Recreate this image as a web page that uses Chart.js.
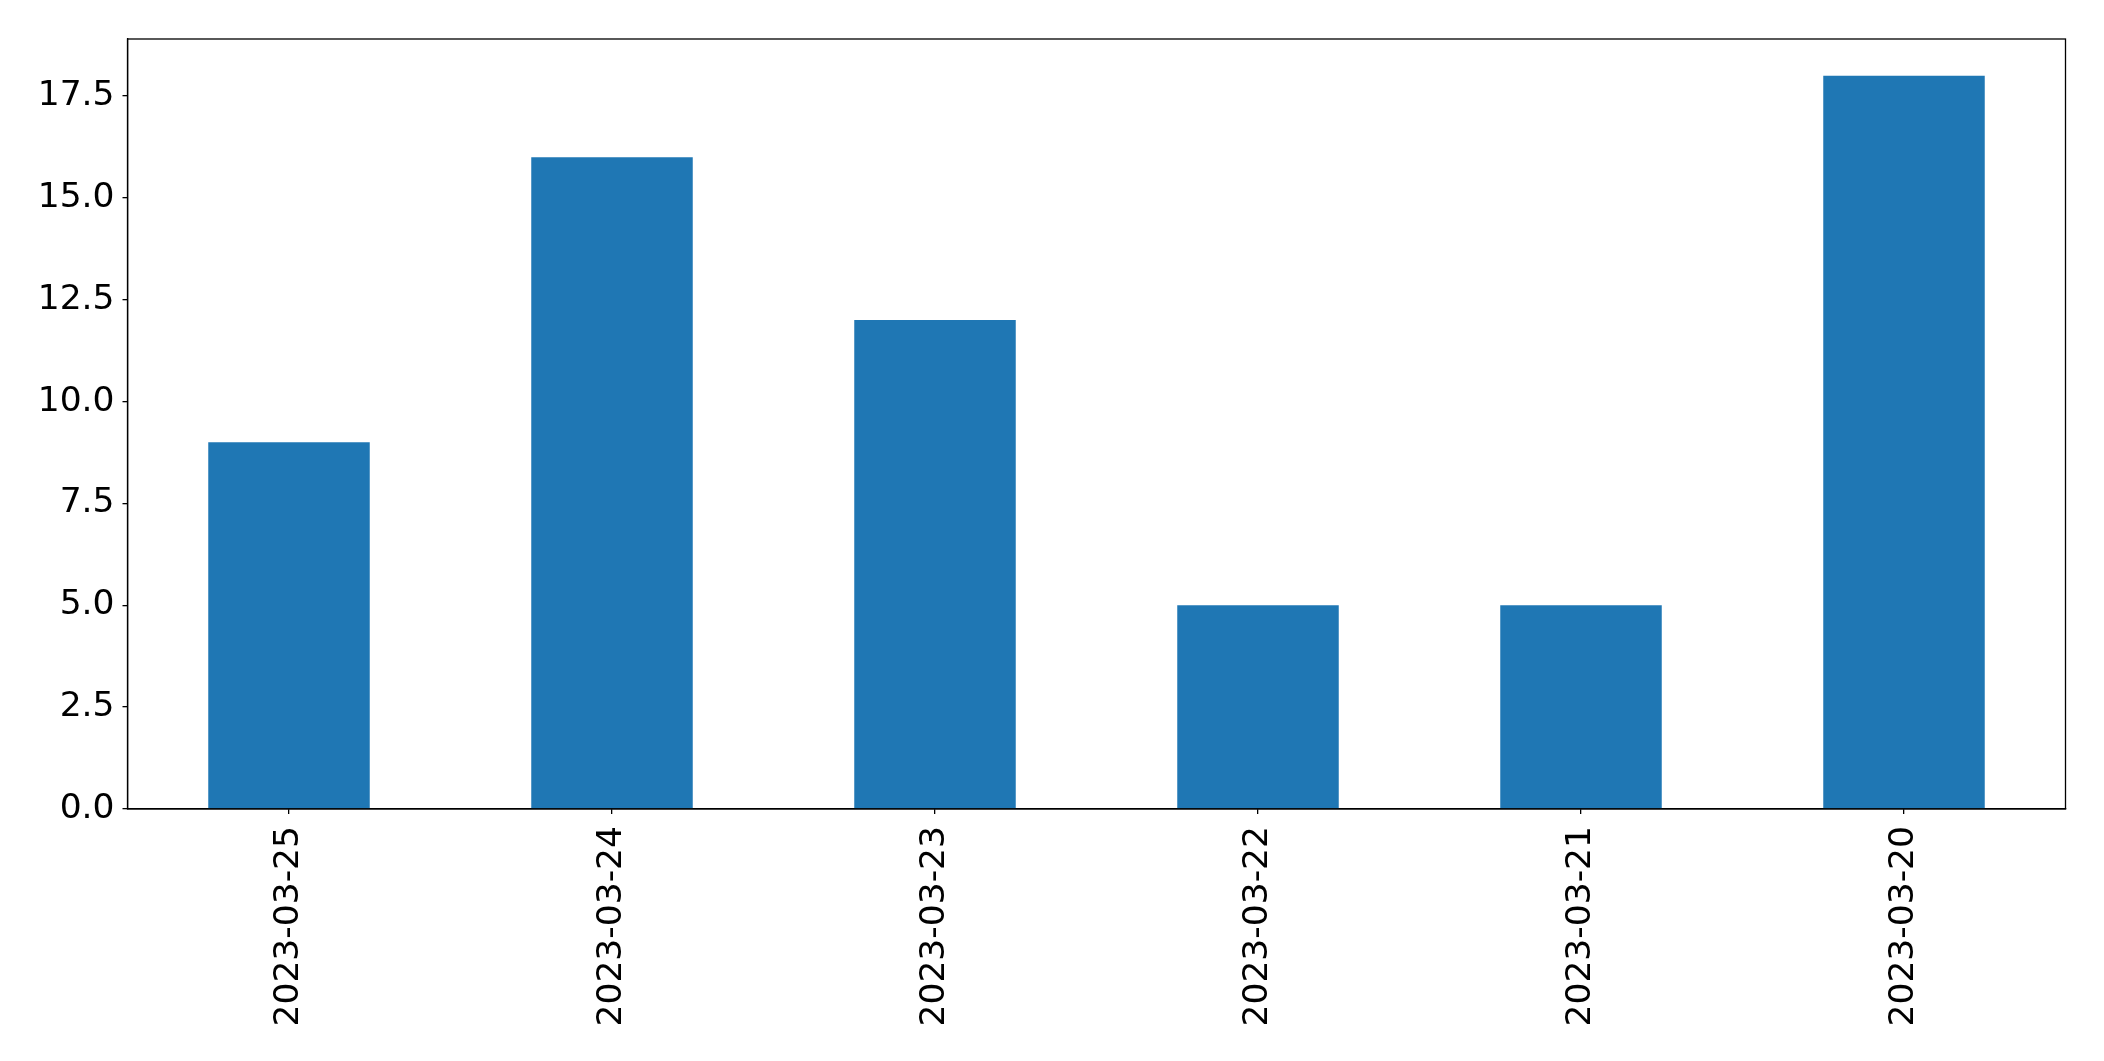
<!DOCTYPE html>
<html>
<head>
<meta charset="utf-8">
<script src="https://cdn.jsdelivr.net/npm/chart.js@4/dist/chart.umd.min.js"></script>
<style>
html,body{margin:0;padding:0;background:#fff;}
#wrap{width:2104px;height:1061px;position:relative;}
</style>
</head>
<body>
<div id="wrap"><canvas id="c" width="2104" height="1061"></canvas></div>
<script>
const categories = ["2023-03-25","2023-03-24","2023-03-23","2023-03-22","2023-03-21","2023-03-20"];
const values = [9, 16, 12, 5, 5, 18];
const yTickValues = [0, 2.5, 5, 7.5, 10, 12.5, 15, 17.5];
const yMax = 18.9;

const frame = {
  id: 'frame',
  afterDatasetsDraw(chart) {
    const {ctx, chartArea: a} = chart;
    ctx.save();
    ctx.strokeStyle = '#000';
    ctx.lineWidth = 1.3;
    ctx.strokeRect(a.left, a.top, a.right - a.left, a.bottom - a.top);
    ctx.restore();
  }
};

new Chart(document.getElementById('c'), {
  type: 'bar',
  data: {
    labels: categories,
    datasets: [{
      data: values,
      backgroundColor: '#1f77b4',
      borderWidth: 0,
      categoryPercentage: 0.5,
      barPercentage: 1.0
    }]
  },
  options: {
    responsive: false,
    animation: false,
    devicePixelRatio: 1,
    layout: {padding: {top: 39, right: 38.5, left: 0, bottom: 0}},
    plugins: {legend: {display: false}, tooltip: {enabled: false}},
    scales: {
      x: {
        offset: true,
        grid: {display: true, offset: false, drawOnChartArea: false, drawTicks: true, tickLength: 5, color: '#000', lineWidth: 1.3},
        border: {display: true, color: '#000', width: 1.3},
        ticks: {
          minRotation: 90, maxRotation: 90, autoSkip: false, padding: 12,
          color: '#000', font: {family: 'DejaVu Sans', size: 34.5}
        },
        afterFit(scale) { scale.height = 252; }
      },
      y: {
        min: 0, max: yMax,
        grid: {display: true, drawOnChartArea: false, drawTicks: true, tickLength: 5, color: '#000', lineWidth: 1.3},
        border: {display: true, color: '#000', width: 1.3},
        ticks: {
          padding: 8, color: '#000', font: {family: 'DejaVu Sans', size: 34.5},
          callback: v => Number(v).toFixed(1)
        },
        afterBuildTicks(scale) { scale.ticks = yTickValues.map(v => ({value: v})); },
        afterFit(scale) { scale.width = 127.5; }
      }
    }
  },
  plugins: [frame]
});
</script>
</body>
</html>
